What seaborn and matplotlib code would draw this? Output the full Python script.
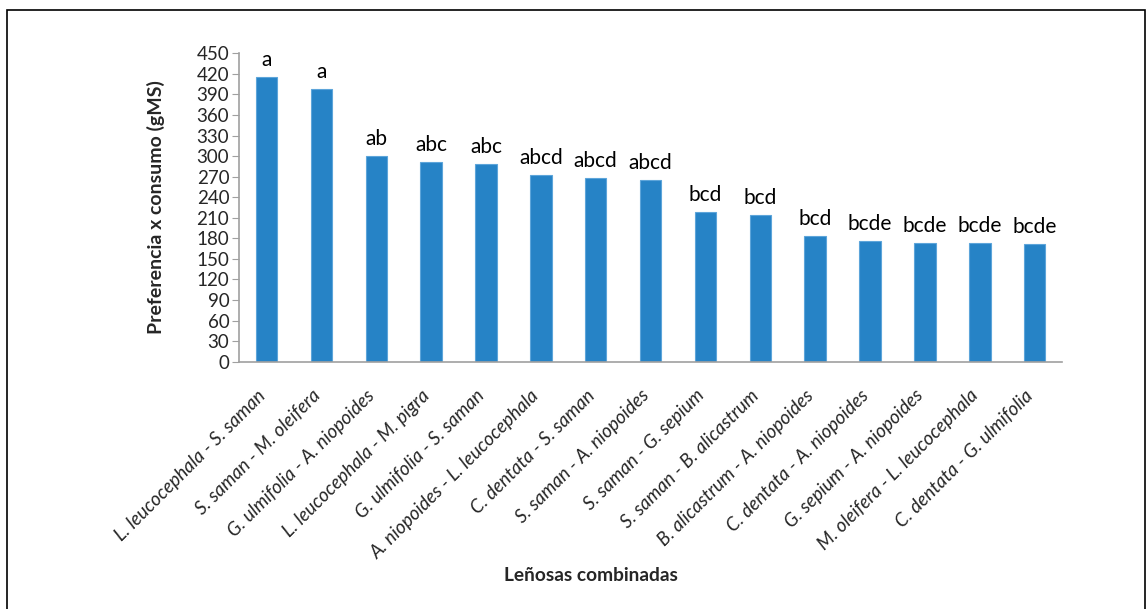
import matplotlib
matplotlib.use('Agg')
import matplotlib.pyplot as plt
import matplotlib.transforms as mtransforms
import seaborn as sns
from matplotlib.patches import Rectangle

# Data
combinaciones = ['L. leucocephala - S. saman', 'S. saman - M. oleifera',
                 'G. ulmifolia - A. niopoides', 'L. leucocephala - M. pigra',
                 'G. ulmifolia - S. saman', 'A. niopoides - L. leucocephala',
                 'C. dentata - S. saman', 'S. saman - A. niopoides',
                 'S. saman - G. sepium', 'S. saman - B. alicastrum',
                 'B. alicastrum - A. niopoides', 'C. dentata - A. niopoides',
                 'G. sepium - A. niopoides', 'M. oleifera - L. leucocephala',
                 'C. dentata - G. ulmifolia']
valores = [415, 398, 300, 292, 289, 272, 268, 265, 218, 214, 183, 176, 173, 173, 172]
letras = ['a', 'a', 'ab', 'abc', 'abc', 'abcd', 'abcd', 'abcd', 'bcd', 'bcd',
          'bcd', 'bcde', 'bcde', 'bcde', 'bcde']
y_ticks = list(range(0, 451, 30))

sns.set_style('white')
plt.rcParams['font.family'] = ['Lato', 'DejaVu Sans']

fig = plt.figure(figsize=(11.47, 6.09), dpi=100)
ax = fig.add_axes([0.2084, 0.406, 0.7176, 0.5065])

sns.barplot(x=combinaciones, y=valores, color='#2683C6', width=0.39,
            saturation=1, edgecolor='#5DA5DA', linewidth=0.8, ax=ax)

for i, (v, t) in enumerate(zip(valores, letras)):
    ax.annotate(t, (i, v), xytext=(0, 5), textcoords='offset points',
                ha='center', va='bottom', fontsize=15, color='black')

ax.set_ylim(0, 450)
ax.set_xlim(-0.5, len(valores) - 0.5)
ax.set_yticks(y_ticks)
ax.tick_params(axis='y', labelsize=13.5, length=5, width=0.8, color='#A0A0A0',
               direction='out', left=True, pad=2)
ax.tick_params(axis='x', length=0, pad=18)
plt.setp(ax.get_xticklabels(), rotation=45, ha='right', rotation_mode='anchor',
         fontsize=13.5, fontstyle='italic')
# nudge the slanted labels a bit to the left, as in the original
shift = mtransforms.ScaledTranslation(-0.10, 0, fig.dpi_scale_trans)
for lab in ax.get_xticklabels():
    lab.set_transform(lab.get_transform() + shift)

for s in ['top', 'right']:
    ax.spines[s].set_visible(False)
for s in ['left', 'bottom']:
    ax.spines[s].set_color('#A0A0A0')
    ax.spines[s].set_linewidth(1.2)

ax.set_ylabel('Preferencia x consumo (gMS)', fontsize=14, fontweight='bold')
ax.yaxis.set_label_coords(-0.09, 0.5)
ax.set_xlabel('Leñosas combinadas', fontsize=13.8, fontweight='bold')
ax.xaxis.set_label_coords(0.428, -0.665)

# outer frame of the chart area
fig.patches.append(Rectangle((0.006, -0.01), 0.992, 0.994, transform=fig.transFigure,
                             fill=False, edgecolor='black', linewidth=1.2))

fig.savefig('out.png', dpi=100)
